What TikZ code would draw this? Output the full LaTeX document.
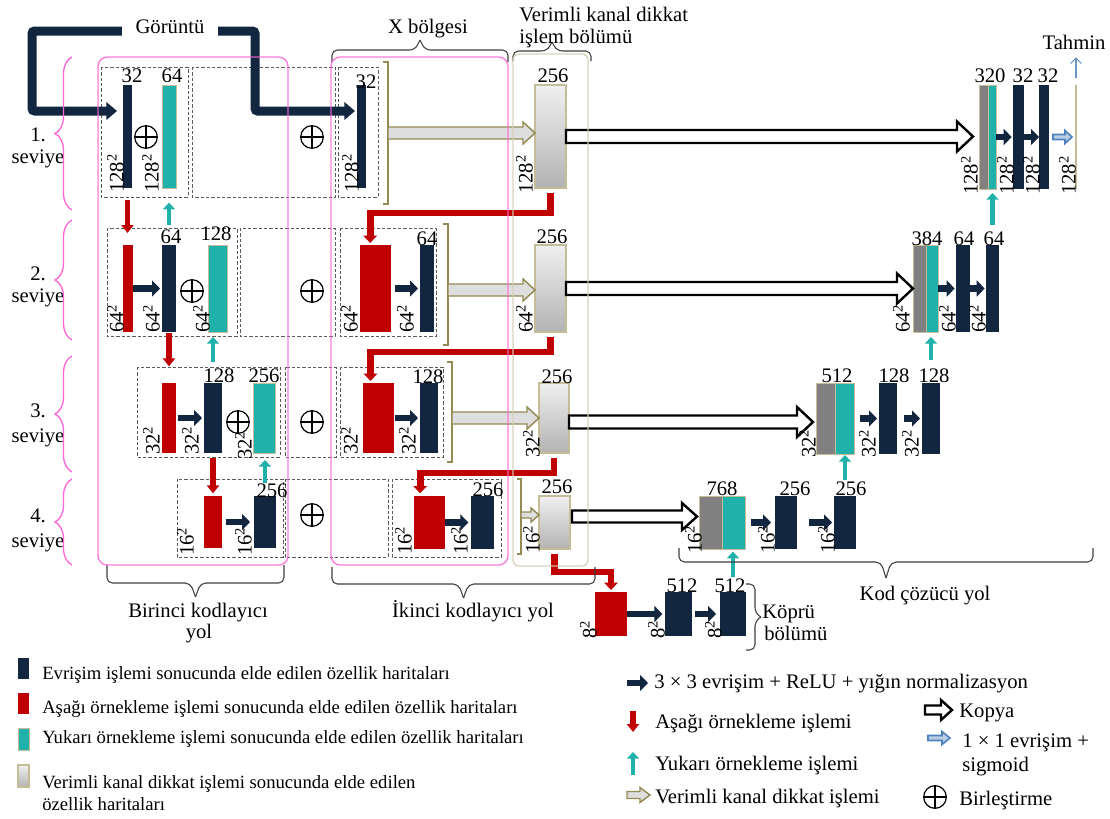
\documentclass[tikz,border=0pt]{standalone}
\usepackage{fontspec}
\setmainfont{Liberation Serif}
\usetikzlibrary{arrows.meta,calc,fit,decorations.pathreplacing}
\definecolor{navy}{RGB}{18,38,63}
\definecolor{redc}{RGB}{192,0,0}
\definecolor{tealc}{RGB}{32,178,170}
\definecolor{tanc}{RGB}{148,138,84}
\definecolor{tanl}{RGB}{196,189,151}
\definecolor{regc}{RGB}{214,208,184}
\definecolor{pinkc}{RGB}{255,102,214}
\definecolor{grayc}{RGB}{128,128,128}
\definecolor{bluec}{RGB}{79,129,189}
\definecolor{boxc}{RGB}{90,90,90}
\newcommand\FMap[6]{\node[#1,fit={(#3,#4)(#5,#6)}] (#2) {};}
\newcommand\SzL[4]{\node[szlab] (#1) at (#2,#3) {#4\textsuperscript{2}};}
\newcommand\ChL[4]{\node[chlab] (#1) at (#2,#3) {#4};}
\newcommand\HArrow[6]{%
  \path (#2) coordinate (ha) (#3) coordinate (hb);
  \filldraw[#1] ($(ha)+(0,#4)$) -- ($(hb)+(-#6,#4)$) -- ($(hb)+(-#6,#5)$) -- (hb) -- ($(hb)+(-#6,-#5)$) -- ($(hb)+(-#6,-#4)$) -- ($(ha)+(0,-#4)$) -- cycle;}
% horizontal bracket-brace: style, xa, xb, y ends, y body, y tip
\newcommand\HBr[6]{%
  \pgfmathsetmacro\xmid{(#2+#3)/2}%
  \draw[#1] (#2,#4) -- (#2,#5) -- (\xmid-5,#5) -- (\xmid,#6);
  \draw[#1] (#3,#4) -- (#3,#5) -- (\xmid+5,#5) -- (\xmid,#6);}
% vertical bracket-brace: style, ya, yb, x ends, x body, x tip
\newcommand\VBr[6]{%
  \pgfmathsetmacro\ymid{(#2+#3)/2}%
  \draw[#1] (#4,#2) -- (#5,#2) -- (#5,\ymid-4) -- (#6,\ymid);
  \draw[#1] (#4,#3) -- (#5,#3) -- (#5,\ymid+4) -- (#6,\ymid);}
\begin{document}
\begin{tikzpicture}[x=0.75pt,y=-0.75pt,
  every node/.style={font=\fontsize{15.5}{18}\selectfont, inner sep=0pt},
  bx/.style={inner sep=0pt, outer sep=0pt},
  navyb/.style={bx, fill=navy},
  redb/.style={bx, fill=redc},
  tealb/.style={bx, fill=tealc, draw=tanl, line width=0.4pt},
  grayb/.style={bx, fill=grayc, draw=tanl, line width=0.4pt},
  vcab/.style={bx, top color=black!6, bottom color=black!30, draw=tanl, line width=0.8pt},
  szlab/.style={rotate=90, anchor=south west},
  chlab/.style={anchor=base},
  lab/.style={anchor=base west},
  lablg/.style={anchor=base west, font=\fontsize{14}{17}\selectfont},
  dashbox/.style={draw=boxc, dash pattern=on 2.5pt off 1.5pt, line width=0.7pt},
  pinkbox/.style={draw=pinkc, line width=1pt, rounded corners=7pt, opacity=0.85},
  conv/.style={navy, line width=5pt, -{Triangle[length=6pt,width=12pt]}},
  dsarrow/.style={redc, line width=4pt, -{Triangle[length=6pt,width=9pt]}},
  elbow/.style={redc, line width=5pt, -{Triangle[length=5.5pt,width=10pt]}},
  usarrow/.style={tealc, line width=3.2pt, -{Triangle[length=5pt,width=9pt]}},
  inar/.style={navy, line width=6.75pt, rounded corners=2pt, -{Triangle[length=8pt,width=13pt]}},
  vca/.style={draw=tanc, fill=black!13, line width=1.1pt},
  copyar/.style={draw=black, fill=white, line width=1.8pt},
  onear/.style={draw=bluec, fill=bluec!40, line width=1.2pt},
  tahar/.style={bluec!85, line width=0.8pt, -{Straight Barb[length=4pt,width=8pt]}},
  tanbr/.style={draw=tanc, line width=1.2pt},
  oplus/.style={circle, draw, line width=0.9pt, minimum size=17pt,
    path picture={\draw[line width=0.9pt] (path picture bounding box.north) -- (path picture bounding box.south)
      (path picture bounding box.west) -- (path picture bounding box.east);}},
  lbrace/.style={draw=pinkc, line width=1pt, decorate, decoration={brace, amplitude=12.75pt}},
  gbr/.style={draw=black!75, line width=0.8pt, rounded corners=4pt}
]
\fill[white] (0,0) rectangle (1110,818);
\useasboundingbox (0,0) rectangle (1110,818);

% dashed boxes
\draw[dashbox] (101,67) rectangle (188,197);
\draw[dashbox] (192,67) rectangle (335,197);
\draw[dashbox] (338,67) rectangle (378,197);
\draw[dashbox] (107,228) rectangle (237,336);
\draw[dashbox] (240,228) rectangle (335,336);
\draw[dashbox] (340,228) rectangle (436,336);
\draw[dashbox] (137,367) rectangle (280,457);
\draw[dashbox] (285,367) rectangle (336,457);
\draw[dashbox] (340,367) rectangle (443,457);
\draw[dashbox] (177,479) rectangle (283,557);
\draw[dashbox] (285,479) rectangle (388,557);
\draw[dashbox] (392,479) rectangle (501,557);

% level 1 maps
\FMap{navyb}{n1a}{123}{85}{132}{188}
\FMap{tealb}{t1a}{162}{85}{176}{188}
\FMap{navyb}{n1c}{357}{85}{366}{188}
\FMap{vcab}{v1}{535}{85}{566}{188}
\FMap{grayb}{g1}{979}{85}{988}{189}
\FMap{tealb}{u1}{988}{85}{996}{189}
\FMap{navyb}{d1a}{1013}{85}{1024}{189}
\FMap{navyb}{d1b}{1039}{85}{1049}{189}
\FMap{bx, fill=tanl}{pred}{1075}{85}{1077}{189}
% level 2
\FMap{redb}{r2a}{123}{245}{133}{332}
\FMap{navyb}{n2a}{162}{245}{176}{332}
\FMap{tealb}{t2a}{208}{245}{227}{332}
\FMap{redb}{r2c}{360}{245}{391}{332}
\FMap{navyb}{n2c}{420}{245}{434}{332}
\FMap{vcab}{v2}{535}{245}{566}{332}
\FMap{grayb}{g2}{913}{245}{926}{332}
\FMap{tealb}{u2}{926}{245}{938}{332}
\FMap{navyb}{d2a}{956}{245}{970}{332}
\FMap{navyb}{d2b}{986}{245}{999}{332}
% level 3
\FMap{redb}{r3a}{162}{383}{176}{453}
\FMap{navyb}{n3a}{204}{383}{222}{453}
\FMap{tealb}{t3a}{253}{383}{275}{453}
\FMap{redb}{r3c}{363}{383}{394}{453}
\FMap{navyb}{n3c}{420}{383}{438}{453}
\FMap{vcab}{v3}{539}{383}{569}{453}
\FMap{grayb}{g3}{816}{383}{835}{454}
\FMap{tealb}{u3}{835}{383}{854}{454}
\FMap{navyb}{d3a}{879}{383}{897}{454}
\FMap{navyb}{d3b}{922}{383}{940}{454}
% level 4
\FMap{redb}{r4a}{204}{496}{222}{548}
\FMap{navyb}{n4a}{254}{496}{276}{548}
\FMap{redb}{r4c}{414}{496}{445}{549}
\FMap{navyb}{n4c}{471}{496}{494}{549}
\FMap{vcab}{v4}{539}{496}{570}{549}
\FMap{grayb}{g4}{699}{496}{722}{549}
\FMap{tealb}{u4}{722}{496}{745}{549}
\FMap{navyb}{d4a}{775}{496}{797}{549}
\FMap{navyb}{d4b}{834}{496}{856}{549}
% bridge
\FMap{redb}{rb}{595}{592}{627}{636}
\FMap{navyb}{b1}{665}{592}{692}{636}
\FMap{navyb}{b2}{720}{592}{746}{636}

% concatenation symbols
\node[oplus] (p1a) at (146,137) {};
\node[oplus] (p1b) at (312,137) {};
\node[oplus] (p2a) at (192,291) {};
\node[oplus] (p2b) at (312,291) {};
\node[oplus] (p3a) at (238,422) {};
\node[oplus] (p3b) at (312,422) {};
\node[oplus] (p4b) at (312,515) {};

% input
\node[anchor=base, inner xsep=10pt] (img) at (170,33) {Görüntü};
\coordinate (gl) at (32,111);
\coordinate (gr) at (255,111);
\draw[inar, shorten >=4.5pt] (img.west |- 0,31) -| (gl) -- (gl -| n1a.west);
\draw[inar, shorten >=1.5pt] (img.east |- 0,31) -| (gr) -- (gr -| n1c.west);

% down-sampling (first encoder)
\draw[dsarrow, shorten <=9pt, shorten >=9pt] (n1a.south) -- (n1a.south |- r2a.north);
\draw[dsarrow, shorten <=1pt, shorten >=12.5pt] (n2a.south) -- (n2a.south |- r3a.north);
\draw[dsarrow, shorten <=4pt, shorten >=2pt] (n3a.south) -- (n3a.south |- r4a.north);
% up-sampling
\draw[usarrow, shorten <=15pt, shorten >=11pt] (n2a.north) -- (n2a.north |- t1a.south);
\draw[usarrow, shorten <=15.75pt, shorten >=3.75pt] (n3a.north) -- (n3a.north |- t2a.south);
\draw[usarrow, shorten <=9.75pt, shorten >=5.25pt] (n4a.north) -- (n4a.north |- t3a.south);
\draw[usarrow, shorten <=15pt, shorten >=3pt] (d2b.north) -- (d2b.north |- u1.south);
\draw[usarrow, shorten <=17pt, shorten >=3.75pt] (d3b.north) -- (d3b.north |- u2.south);
\draw[usarrow, shorten <=12pt, shorten >=0.75pt] (d4b.north) -- (d4b.north |- u3.south);
\draw[usarrow, shorten <=11pt, shorten >=2pt] (b2.north) -- (b2.north |- u4.south);

% conv arrows
\draw[conv, shorten >=1.5pt] (r2a.east) -- (r2a.east -| n2a.west);
\draw[conv, shorten <=1.5pt, shorten >=1.5pt] (r3a.east) -- (r3a.east -| n3a.west);
\draw[conv, shorten <=3pt, shorten >=3pt] (r4a.east) -- (r4a.east -| n4a.west);
\draw[conv, shorten <=3pt, shorten >=1.5pt] (r2c.east) -- (r2c.east -| n2c.west);
\draw[conv, shorten <=1pt, shorten >=1.5pt] (r3c.east) -- (r3c.east -| n3c.west);
\draw[conv, shorten >=2pt] (r4c.east) -- (r4c.east -| n4c.west);
\draw[conv, shorten >=1pt] (u1.east) -- (u1.east -| d1a.west);
\draw[conv] (d1a.east) -- (d1a.east -| d1b.west);
\draw[conv, shorten >=1pt] (u2.east) -- (u2.east -| d2a.west);
\draw[conv, shorten >=1pt] (d2a.east) -- (d2a.east -| d2b.west);
\draw[conv, shorten <=4.5pt, shorten >=1.5pt] (u3.east) -- (u3.east -| d3a.west);
\draw[conv, shorten <=5pt, shorten >=1.5pt] (d3a.east) -- (d3a.east -| d3b.west);
\draw[conv, shorten <=4.5pt, shorten >=3pt] (u4.east) -- (u4.east -| d4a.west);
\draw[conv, shorten <=9pt, shorten >=1.5pt] (d4a.east) -- (d4a.east -| d4b.west);
\draw[conv, shorten >=2pt] (rb.east) -- (rb.east -| b1.west);
\draw[conv, shorten <=2pt, shorten >=3pt] (b1.east) -- (b1.east -| b2.west);

% red elbow arrows from attention blocks
\draw[elbow, shorten <=3.5pt, shorten >=1.5pt] (v1.south) -- (v1.south |- 0,213) -| ([xshift=-4pt]r2c.north);
\draw[elbow, shorten <=3.5pt, shorten >=1.5pt] (v2.south) -- (v2.south |- 0,352) -| ([xshift=-6pt]r3c.north);
\draw[elbow, shorten <=3.5pt, shorten >=2pt] (v3.south) -- (v3.south |- 0,473) -| ([xshift=-7pt]r4c.north);
\draw[elbow, shorten <=3.5pt, shorten >=1.5pt] (v4.south) -- (v4.south |- 0,572) -| (rb.north);

% tan brackets and attention arrows
\draw[tanbr] (383,62) -- (388,62) -- (388,204) -- (383,204);
\draw[tanbr] (443,224) -- (448,224) -- (448,345) -- (443,345);
\draw[tanbr] (447,362) -- (452,362) -- (452,462) -- (447,462);
\draw[tanbr] (517,479) -- (521,479) -- (521,554) -- (517,554);
\coordinate (k1) at (388,133);
\coordinate (k2) at (448,290);
\coordinate (k3) at (452,418);
\coordinate (k4) at (521,515);
\HArrow{vca}{k1}{k1 -| v1.west}{6}{11}{12}
\HArrow{vca}{k2}{k2 -| v2.west}{6}{11}{12}
\HArrow{vca}{k3}{k3 -| v3.west}{6}{11}{12}
\HArrow{vca}{k4}{k4 -| v4.west}{3}{7}{8}

% copy arrows
\HArrow{copyar}{v1.east}{$(v1.east -| g1.west)+(-6,0)$}{6.5}{15}{16}
\HArrow{copyar}{v2.east}{v2.east -| g2.west}{6.5}{15}{16}
\HArrow{copyar}{$(v3.east)+(0,4)$}{$(v3.east -| g3.west)+(-3,4)$}{6.5}{15}{16}
\HArrow{copyar}{$(v4.east)+(2,-6)$}{$(v4.east -| g4.west)+(-2,-6)$}{6}{13.5}{15}
% output
\HArrow{onear}{$(d1b.east)+(4,0)$}{$(pred.west)+(-3,0)$}{2.5}{6.5}{7}
\node[chlab] (tah) at (1074,49) {Tahmin};
\draw[tahar, shorten <=5pt, shorten >=6pt] (pred.north) -- (pred.north |- tah.south);

% channel labels
\ChL{c1}{132}{82}{32} \ChL{c2}{172}{82}{64} \ChL{c3}{366}{88}{32} \ChL{c4}{553}{82}{256}
\ChL{c5}{990}{82}{320} \ChL{c6}{1023}{82}{32} \ChL{c7}{1048}{82}{32}
\ChL{c8}{171}{243}{64} \ChL{c9}{216}{240}{128} \ChL{c10}{427}{245}{64} \ChL{c11}{552}{243}{256}
\ChL{c12}{927}{245}{384} \ChL{c13}{964}{245}{64} \ChL{c14}{994}{245}{64}
\ChL{c15}{219}{382}{128} \ChL{c16}{264}{382}{256} \ChL{c17}{428}{383}{128} \ChL{c18}{557}{383}{256}
\ChL{c19}{837}{382}{512} \ChL{c20}{894}{382}{128} \ChL{c21}{934}{382}{128}
\ChL{c22}{272}{497}{256} \ChL{c23}{488}{496}{256} \ChL{c24}{557}{493}{256}
\ChL{c25}{722}{495}{768} \ChL{c26}{795}{495}{256} \ChL{c27}{851}{495}{256}
\ChL{c28}{682}{592}{512} \ChL{c29}{730}{592}{512}

% size labels
\SzL{s1}{124}{193}{128} \SzL{s2}{159}{193}{128} \SzL{s3}{359}{193}{128} \SzL{s4}{533}{194}{128}
\SzL{s5}{978}{195}{128} \SzL{s6}{1014}{195}{128} \SzL{s7}{1040}{195}{128} \SzL{s8}{1076}{195}{128}
\SzL{s9}{124}{333}{64} \SzL{s10}{160}{333}{64} \SzL{s11}{210}{333}{64} \SzL{s12}{358}{333}{64}
\SzL{s13}{414}{333}{64} \SzL{s14}{533}{333}{64} \SzL{s15}{910}{333}{64} \SzL{s16}{956}{333}{64} \SzL{s17}{986}{333}{64}
\SzL{s18}{160}{455}{32} \SzL{s19}{199}{455}{32} \SzL{s20}{252}{460}{32} \SzL{s21}{358}{455}{32}
\SzL{s22}{416}{455}{32} \SzL{s23}{540}{458}{32} \SzL{s24}{816}{458}{32} \SzL{s25}{876}{458}{32} \SzL{s26}{919}{458}{32}
\SzL{s27}{194}{556}{16} \SzL{s28}{252}{556}{16} \SzL{s29}{412}{555}{16} \SzL{s30}{468}{555}{16}
\SzL{s31}{540}{554}{16} \SzL{s32}{702}{554}{16} \SzL{s33}{775}{554}{16} \SzL{s34}{835}{554}{16}
\SzL{s35}{597}{639}{8} \SzL{s36}{665}{639}{8} \SzL{s37}{722}{639}{8}

% level labels and braces
\node[chlab] (lv1a) at (38,141) {1.}; \node[chlab] (lv1b) at (38,163) {seviye};
\node[chlab] (lv2a) at (38,280) {2.}; \node[chlab] (lv2b) at (38,302) {seviye};
\node[chlab] (lv3a) at (38,417) {3.}; \node[chlab] (lv3b) at (38,442) {seviye};
\node[chlab] (lv4a) at (38,522) {4.}; \node[chlab] (lv4b) at (38,547) {seviye};
\draw[lbrace] (72,210) -- (72,57);
\draw[lbrace] (72,340) -- (72,220);
\draw[lbrace] (72,472) -- (72,356);
\draw[lbrace] (72,565) -- (72,479);

% section braces and titles
\HBr{gbr}{332}{508}{62}{50}{40}
\HBr{gbr}{513}{591}{61}{51}{42}
\HBr{gbr}{107}{284}{565}{583}{597}
\HBr{gbr}{332}{595}{567}{584}{598}
\HBr{gbr}{679}{1093}{548}{562}{578}
\VBr{gbr}{584}{650}{746}{755}{761}
\node[chlab] (xb) at (428,33) {X bölgesi};
\node[lab] (vk1) at (519,21) {Verimli kanal dikkat};
\node[lab] (vk2) at (519,43) {işlem bölümü};
\node[chlab] (bk1) at (198,617) {Birinci kodlayıcı};
\node[chlab] (bk2) at (199,638) {yol};
\node[chlab] (ik) at (473,617) {İkinci kodlayıcı yol};
\node[chlab] (kc) at (925,600) {Kod çözücü yol};
\node[lab] (kp1) at (762,618) {Köprü};
\node[lab] (kp2) at (764,640) {bölümü};

% regions (on top, as in the reference)
\draw[pinkbox] (98,57) rectangle (288,565);
\draw[pinkbox] (331,57) rectangle (508,565);
\draw[draw=regc, line width=1.1pt, rounded corners=4pt, opacity=0.9] (513,54) rectangle (588,566);

% legend, left
\FMap{navyb}{lg1}{18}{658}{29}{679}
\FMap{redb}{lg2}{18}{693}{29}{714}
\FMap{tealb}{lg3}{18}{728}{29}{750}
\FMap{vcab}{lg4}{18}{765}{29}{787}
\node[lablg] (lt1) at (42,679) {Evrişim işlemi sonucunda elde edilen özellik haritaları};
\node[lablg] (lt2) at (42,713) {Aşağı örnekleme işlemi sonucunda elde edilen özellik haritaları};
\node[lablg] (lt3) at (42,743) {Yukarı örnekleme işlemi sonucunda elde edilen özellik haritaları};
\node[lablg] (lt4) at (42,788) {Verimli kanal dikkat işlemi sonucunda elde edilen};
\node[lablg] (lt4b) at (42,810) {özellik haritaları};

% legend, right
\coordinate (la1) at (627,683); \coordinate (la2) at (648,683);
\draw[conv] (la1) -- (la2);
\node[lab] (lt5) at (654,688) {3 × 3 evrişim + ReLU + yığın normalizasyon};
\coordinate (la3) at (633,711); \coordinate (la4) at (633,732);
\draw[dsarrow] (la3) -- (la4);
\node[lab] (lt6) at (655,728) {Aşağı örnekleme işlemi};
\coordinate (la5) at (633,775); \coordinate (la6) at (633,752);
\draw[usarrow] (la5) -- (la6);
\node[lab] (lt7) at (655,770) {Yukarı örnekleme işlemi};
\coordinate (la7) at (627,795); \coordinate (la8) at (650,795);
\HArrow{vca}{la7}{la8}{3.5}{7.5}{10}
\node[lab] (lt8) at (655,803) {Verimli kanal dikkat işlemi};
\coordinate (la9) at (925,710); \coordinate (la10) at (952,710);
\HArrow{copyar}{la9}{la10}{4.5}{10}{11}
\node[lab] (lt9) at (959,717) {Kopya};
\coordinate (la11) at (928,738); \coordinate (la12) at (950,738);
\HArrow{onear}{la11}{la12}{2.5}{6.5}{8}
\node[lab] (lt10) at (962,747) {1 × 1 evrişim +};
\node[lab] (lt11) at (962,771) {sigmoid};
\node[oplus] (lp) at (935,797) {};
\node[lab] (lt12) at (959,805) {Birleştirme};
\end{tikzpicture}
\end{document}
